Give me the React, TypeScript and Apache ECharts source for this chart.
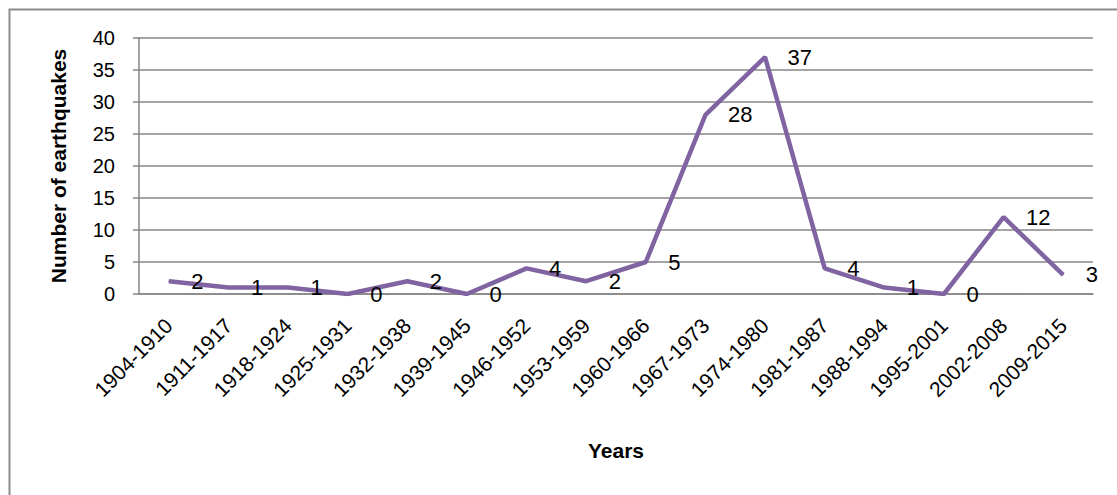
import React, { useEffect, useRef } from "react";
import * as echarts from "echarts";

const categories = [
  "1904-1910", "1911-1917", "1918-1924", "1925-1931", "1932-1938", "1939-1945",
  "1946-1952", "1953-1959", "1960-1966", "1967-1973", "1974-1980", "1981-1987",
  "1988-1994", "1995-2001", "2002-2008", "2009-2015",
];
const earthquakes = [2, 1, 1, 0, 2, 0, 4, 2, 5, 28, 37, 4, 1, 0, 12, 3];
const yTicks = { min: 0, max: 40, interval: 5 };

const FONT = "Liberation Sans";

export default function App() {
  const ref = useRef<HTMLDivElement>(null);
  useEffect(() => {
    document.body.style.margin = "0";
    const chart = echarts.init(ref.current!, null, { renderer: "svg" });
    chart.setOption({
      animation: false,
      backgroundColor: "#ffffff",
      textStyle: { fontFamily: FONT },
      graphic: [
        {
          type: "rect",
          shape: { x: 9.5, y: 9.5, width: 1200, height: 600 },
          style: { fill: "none", stroke: "#8c8c8c", lineWidth: 2 },
          silent: true,
        },
      ],
      grid: { left: 139, right: 24, top: 38, bottom: 201, containLabel: false },
      xAxis: {
        type: "category",
        data: categories,
        boundaryGap: true,
        name: "Years",
        nameLocation: "middle",
        nameGap: 146,
        nameTextStyle: { fontFamily: FONT, fontSize: 21, fontWeight: "bold", color: "#000" },
        axisLine: { show: true, lineStyle: { color: "#868686", width: 1.5 } },
        axisTick: { show: false },
        axisLabel: { rotate: 45, fontFamily: FONT, fontSize: 21, color: "#000", margin: 28, interval: 0 },
        splitLine: { show: false },
      },
      yAxis: {
        type: "value",
        min: yTicks.min,
        max: yTicks.max,
        interval: yTicks.interval,
        name: "Number of earthquakes",
        nameLocation: "middle",
        nameGap: 70,
        nameTextStyle: { fontFamily: FONT, fontSize: 21, fontWeight: "bold", color: "#000" },
        axisLine: { show: true, lineStyle: { color: "#868686", width: 1.5 } },
        axisTick: { show: true, length: 6, lineStyle: { color: "#868686", width: 1.5 } },
        axisLabel: { fontFamily: FONT, fontSize: 20, color: "#000", margin: 24 },
        splitLine: { show: true, lineStyle: { color: "#868686", width: 1.5 } },
      },
      series: [
        {
          type: "line",
          data: earthquakes,
          symbol: "circle",
          symbolSize: 1,
          showSymbol: true,
          lineStyle: { color: "#8064A2", width: 4.5 },
          itemStyle: { color: "#8064A2" },
          label: {
            show: true,
            position: "right",
            distance: 22,
            fontFamily: FONT,
            fontSize: 22,
            color: "#000",
          },
        },
      ],
    });
    return () => chart.dispose();
  }, []);
  return <div ref={ref} style={{ width: 1117, height: 495 }} />;
}
